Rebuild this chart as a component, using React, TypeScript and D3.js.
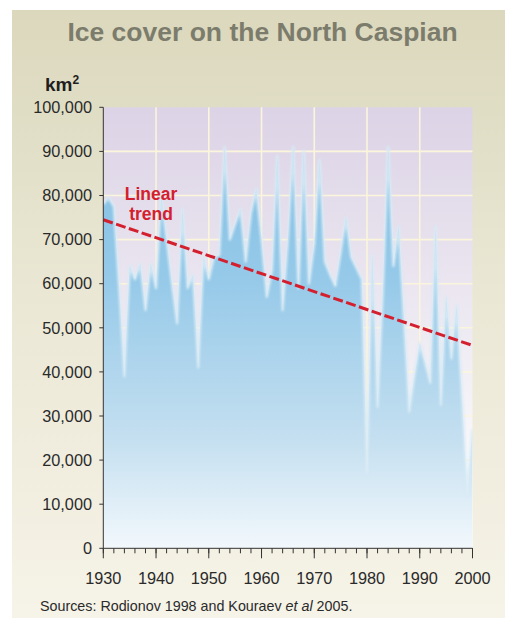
import React from "react";
import * as d3 from "d3";

// Annual maximum ice extent, North Caspian (km²)
const years: number[] = d3.range(1930, 2001);
const iceCover: number[] = [
  78000, 79500, 77500, 59000, 39000, 64000, 61000, 64500, 54000, 64500,
  59000, 80000, 70000, 60000, 51000, 77000, 59000, 62000, 41000, 66000,
  61000, 66000, 66500, 91000, 70000, 73500, 77000, 65000, 76000, 81500,
  70000, 57000, 63000, 89000, 54000, 70000, 91000, 59000, 90000, 60000,
  69000, 88000, 65000, 62000, 59500, 67000, 75000, 66000, 63500, 61000,
  17000, 66500, 32000, 58000, 91000, 64000, 73000, 52000, 31000, 39000,
  46500, 42000, 37500, 73000, 32500, 57000, 43000, 55000, 34000, 12000,
  27000,
];

// Linear trend end points
const trendYears: number[] = [1930, 2000];
const trendValues: number[] = [74500, 46000];

const yTicks: number[] = d3.range(0, 100001, 10000);
const xMajorTicks: number[] = d3.range(1930, 2001, 10);
const xMinorTicks: number[] = d3.range(1930, 2001, 2);

const title = "Ice cover on the North Caspian";

export default function App() {
  const W = 512;
  const H = 620;
  const left = 103.3;
  const right = 472.5;
  const top = 107.3;
  const bottom = 548.3;

  const x = d3.scaleLinear().domain([1930, 2000]).range([left, right]);
  const y = d3.scaleLinear().domain([0, 100000]).range([bottom, top]);

  const data = years.map((yr, i) => ({ year: yr, value: iceCover[i] }));

  const area = d3
    .area<{ year: number; value: number }>()
    .x((d) => x(d.year))
    .y0(y(0))
    .y1((d) => y(d.value));
  const line = d3
    .line<{ year: number; value: number }>()
    .x((d) => x(d.year))
    .y((d) => y(d.value));

  const trend = trendYears.map((yr, i) => ({ year: yr, value: trendValues[i] }));

  const font = "'Liberation Sans', Arial, Helvetica, sans-serif";
  const fmt = d3.format(",");

  return (
    <svg
      width={W}
      height={H}
      style={{ position: "absolute", left: 0, top: 0, display: "block" }}
      fontFamily={font}
    >
      <defs>
        <linearGradient id="panelBg" x1="0" y1="0" x2="0" y2="1">
          <stop offset="0" stopColor="#dbd8bd" />
          <stop offset="0.5" stopColor="#ebe8d6" />
          <stop offset="1" stopColor="#f6f3e8" />
        </linearGradient>
        <linearGradient id="plotBg" gradientUnits="userSpaceOnUse" x1="0" y1={top} x2="0" y2={bottom}>
          <stop offset="0" stopColor="#dcd3e6" />
          <stop offset="0.5" stopColor="#eeeaf2" />
          <stop offset="0.85" stopColor="#fbfbfc" />
          <stop offset="1" stopColor="#ffffff" />
        </linearGradient>
        <linearGradient id="iceFill" gradientUnits="userSpaceOnUse" x1="0" y1={top} x2="0" y2={bottom}>
          <stop offset="0" stopColor="#7dbce1" />
          <stop offset="0.4" stopColor="#97cae9" />
          <stop offset="0.75" stopColor="#c4dff0" />
          <stop offset="1" stopColor="#f2f8fc" />
        </linearGradient>
        <filter id="soft" x="-5%" y="-5%" width="110%" height="110%">
          <feGaussianBlur stdDeviation="0.9" />
        </filter>
        <clipPath id="plotClip">
          <rect x={left} y={top} width={right - left} height={bottom - top} />
        </clipPath>
      </defs>

      {/* Panel */}
      <rect x={12} y={10} width={493} height={608} fill="url(#panelBg)" />

      {/* Title */}
      <text
        x={262.5}
        y={41}
        textAnchor="middle"
        fontSize={26.5}
        fontWeight="bold"
        fill="#7c7c6c"
      >
        {title}
      </text>

      {/* Unit */}
      <text x={45} y={91} fontSize={19} fontWeight="bold" fill="#1e1e1e">
        km<tspan fontSize={12} dy={-7}>2</tspan>
      </text>

      {/* Plot background */}
      <rect x={left} y={top} width={right - left} height={bottom - top} fill="url(#plotBg)" />

      {/* Grid */}
      <g stroke="#fbf5dc" strokeWidth={1.6}>
        {yTicks.slice(1, -1).map((t) => (
          <line key={"gy" + t} x1={left} x2={right} y1={y(t)} y2={y(t)} />
        ))}
        {xMajorTicks.slice(1, -1).map((t) => (
          <line key={"gx" + t} x1={x(t)} x2={x(t)} y1={top} y2={bottom} />
        ))}
      </g>

      {/* Ice cover area */}
      <g clipPath="url(#plotClip)">
        <path d={area(data) || ""} fill="url(#iceFill)" />
        <path
          d={line(data) || ""}
          fill="none"
          stroke="#d8ebf6"
          strokeWidth={2.6}
          strokeLinejoin="round"
          filter="url(#soft)"
          opacity={0.9}
        />
      </g>

      {/* Trend line */}
      <path
        d={line(trend) || ""}
        fill="none"
        stroke="#d4202e"
        strokeWidth={3}
        strokeDasharray="10,3.5"
      />
      <g textAnchor="middle" fontSize={17.5} fontWeight="bold" fill="#d4202e">
        <text x={151} y={200}>
          Linear
        </text>
        <text x={151} y={220}>
          trend
        </text>
      </g>

      {/* Y axis */}
      <g stroke="#333" strokeWidth={1}>
        <line x1={left} x2={left} y1={top} y2={bottom} />
        {yTicks.map((t) => (
          <line key={"ty" + t} x1={left - 4} x2={left} y1={y(t)} y2={y(t)} />
        ))}
      </g>
      <g fontSize={16.3} fill="#2a2a2a" textAnchor="end">
        {yTicks.map((t) => (
          <text key={"ly" + t} x={92} y={y(t) + 5.7}>
            {fmt(t)}
          </text>
        ))}
      </g>

      {/* X axis */}
      <g stroke="#333" strokeWidth={1}>
        <line x1={left} x2={right} y1={bottom} y2={bottom} />
        {xMinorTicks.map((t) => (
          <line key={"tm" + t} x1={x(t)} x2={x(t)} y1={bottom} y2={bottom + 5} />
        ))}
        {xMajorTicks.map((t) => (
          <line key={"tM" + t} x1={x(t)} x2={x(t)} y1={bottom} y2={bottom + 10} />
        ))}
      </g>
      <g fontSize={16.3} fill="#2a2a2a" textAnchor="middle">
        {xMajorTicks.map((t) => (
          <text key={"lx" + t} x={x(t)} y={584}>
            {t}
          </text>
        ))}
      </g>

      {/* Source note */}
      <text x={40} y={611} fontSize={14.3} fill="#2a2a2a">
        Sources: Rodionov 1998 and Kouraev <tspan fontStyle="italic">et al</tspan> 2005.
      </text>
    </svg>
  );
}
